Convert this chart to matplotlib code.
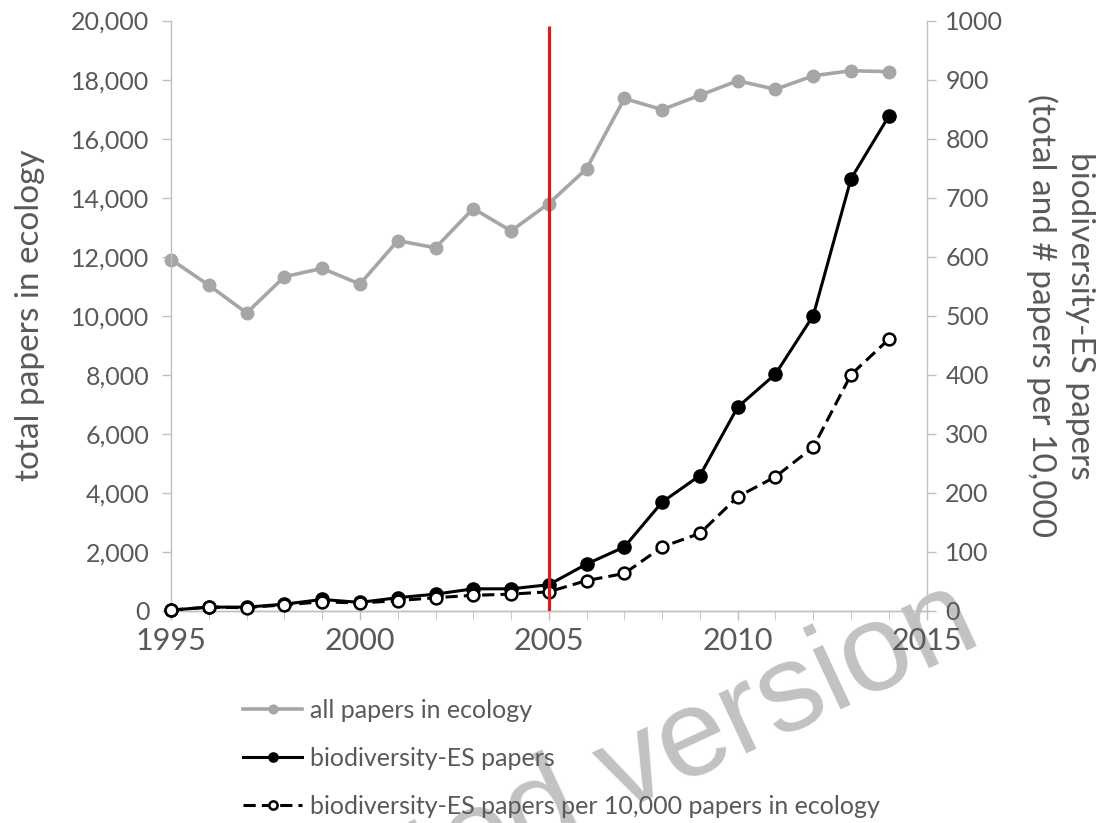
import matplotlib
matplotlib.use("Agg")
import matplotlib.pyplot as plt
from matplotlib.ticker import FuncFormatter, MultipleLocator

# ---- DATA ----
years = list(range(1995, 2015))

# total papers in ecology (left axis)
all_papers = [11900, 11030, 10090, 11320, 11600, 11070, 12540, 12300, 13630, 12870,
              13800, 14980, 17360, 16980, 17470, 17960, 17670, 18130, 18300, 18270]

# biodiversity-ES papers (right axis)
bes_papers = [1, 6, 6, 11, 19, 14, 22, 28, 37, 37,
              44, 79, 108, 184, 229, 345, 401, 500, 732, 838]

# biodiversity-ES papers per 10,000 papers in ecology (right axis)
bes_per_10k = [1, 6, 5, 10, 15, 13, 17, 22, 26, 28,
               32, 51, 63, 108, 131, 193, 227, 277, 400, 460]

MILESTONE_YEAR = 2005
MILESTONE_TOP = 990  # in right-axis units

LEGEND_LABELS = ["all papers in ecology",
                 "biodiversity-ES papers",
                 "biodiversity-ES papers per 10,000 papers in ecology"]
# ---------------------------------------------

TEXT = "#595959"
AXIS = "#BFBFBF"
GREY = "#A6A6A6"

plt.rcParams["font.family"] = ["Lato", "DejaVu Sans"]

fig = plt.figure(figsize=(11.11, 8.23), dpi=100)
ax = fig.add_axes([0.154, 0.258, 0.680, 0.717])
ax2 = ax.twinx()
ax.patch.set_alpha(0)
ax2.patch.set_alpha(0)

l1, = ax.plot(years, all_papers, color=GREY, lw=2.6, marker="o", ms=9,
              mfc=GREY, mec=GREY, clip_on=False)
l2, = ax2.plot(years, bes_papers, color="black", lw=2.2, marker="o", ms=9.5,
               mfc="black", mec="black", clip_on=False, zorder=3)
l3, = ax2.plot(years, bes_per_10k, color="black", lw=2.2, ls=(0, (4, 2)),
               marker="o", ms=8.5, mfc="white", mec="black", mew=1.8,
               clip_on=False, zorder=4)
ax2.vlines(MILESTONE_YEAR, 0, MILESTONE_TOP, color="#D41E1E", lw=2.3, zorder=5)

ax.set_xlim(1995, 2015)
ax.set_ylim(0, 20000)
ax2.set_ylim(0, 1000)

ax.xaxis.set_major_locator(MultipleLocator(5))
ax.xaxis.set_minor_locator(MultipleLocator(1))
ax.yaxis.set_major_locator(MultipleLocator(2000))
ax2.yaxis.set_major_locator(MultipleLocator(100))
ax.yaxis.set_major_formatter(FuncFormatter(lambda v, p: f"{int(v):,}"))

for a in (ax, ax2):
    a.spines["top"].set_visible(False)
    for s in ("left", "right", "bottom"):
        a.spines[s].set_color(AXIS)
        a.spines[s].set_linewidth(1)
    a.tick_params(colors=AXIS, labelcolor=TEXT, labelsize=18, length=6.5, width=1)
ax.tick_params(axis="y", pad=9)
ax2.tick_params(axis="y", pad=7)
ax.tick_params(axis="x", which="both", direction="out", length=6.5, pad=5)
ax.tick_params(axis="x", which="minor", colors=AXIS)
ax.tick_params(axis="x", labelsize=22)
ax2.spines["left"].set_visible(False)
ax.spines["right"].set_visible(False)

ax.set_ylabel("total papers in ecology", fontsize=24, color=TEXT, labelpad=19)
ax2.set_ylabel("biodiversity-ES papers\n(total and # papers per 10,000",
               fontsize=24, color=TEXT, rotation=270, labelpad=66,
               linespacing=1.3)

fig.legend([l1, l2, l3], LEGEND_LABELS, loc="upper left",
           bbox_to_anchor=(0.219, 0.151), frameon=False, fontsize=18,
           labelcolor=TEXT, handlelength=2.35, handletextpad=0.3,
           labelspacing=1.0, borderaxespad=0, borderpad=0, markerscale=0.7)

fig.text(0.886, 0.219, "Accepted version", rotation=25, rotation_mode="anchor",
         ha="right", va="baseline", fontsize=90, color="#C2C2C2", zorder=-1,
         family="Liberation Sans")

fig.savefig("out.png", dpi=100)
